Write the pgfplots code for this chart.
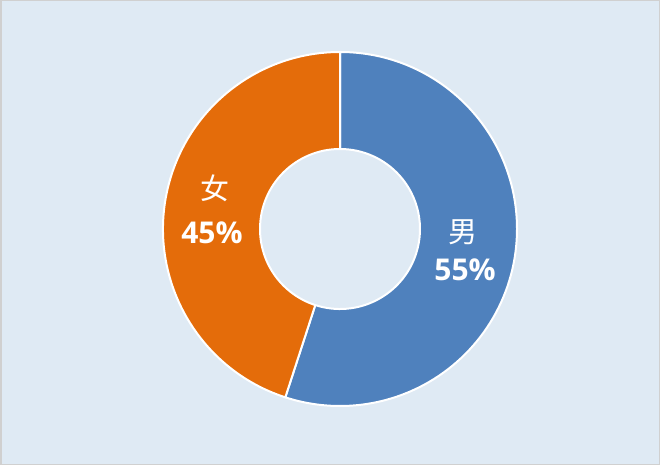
\documentclass[border=0pt]{standalone}
\usepackage{pgfplots}
\pgfplotsset{compat=1.18}
\usepackage{pgfplotstable}
\usepackage{fontspec}
\setmainfont{Open Sans}
\newfontfamily\cjk{Noto Sans CJK SC}
\definecolor{bgc}{HTML}{DFEAF4}
\definecolor{male}{HTML}{4F81BD}
\definecolor{female}{HTML}{E46C0A}
\definecolor{brd}{HTML}{D0D0D0}
\usetikzlibrary{calc}
\pgfplotstableread{
name share
male 55
female 45
}\sharetable
\newcommand\donutwedge[3]{% color, start angle, end angle
  \fill[#1, draw=white, line width=2pt, line join=round]
  ($(axis cs:340,236)+(#2:177pt)$) arc[start angle=#2, end angle=#3, radius=177pt]
  -- ($(axis cs:340,236)+(#3:80pt)$) arc[start angle=#3, end angle=#2, radius=80pt] -- cycle;}
\begin{document}
\begin{tikzpicture}
\pgfplotstablegetelem{0}{share}\of\sharetable \let\vm\pgfplotsretval
\pgfplotstablegetelem{1}{share}\of\sharetable \let\vf\pgfplotsretval
\pgfmathsetmacro{\aend}{90-3.6*\vm}
\pgfmathsetmacro{\fend}{\aend-3.6*\vf}
\begin{axis}[
  x=1pt, y=1pt, xmin=0, xmax=660, ymin=0, ymax=465,
  axis lines=none, scale only axis, clip=false,
  disabledatascaling,
]
\fill[bgc] (axis cs:0,0) rectangle (axis cs:660,465);
\draw[brd, line width=1.5pt] (axis cs:0.75,0.75) rectangle (axis cs:659.25,464.25);
\donutwedge{male}{90}{\aend}
\donutwedge{female}{\aend}{\fend}
\node[white, font=\cjk\fontsize{29}{30}\selectfont] at (axis cs:215,277) {女};
\node[white, font=\bfseries\fontsize{30}{32}\selectfont] at (axis cs:212,232) {\vf\%};
\node[white, font=\cjk\fontsize{29}{30}\selectfont] at (axis cs:463,233) {男};
\node[white, font=\bfseries\fontsize{30}{32}\selectfont] at (axis cs:465,195) {\vm\%};
\end{axis}
\end{tikzpicture}
\end{document}
